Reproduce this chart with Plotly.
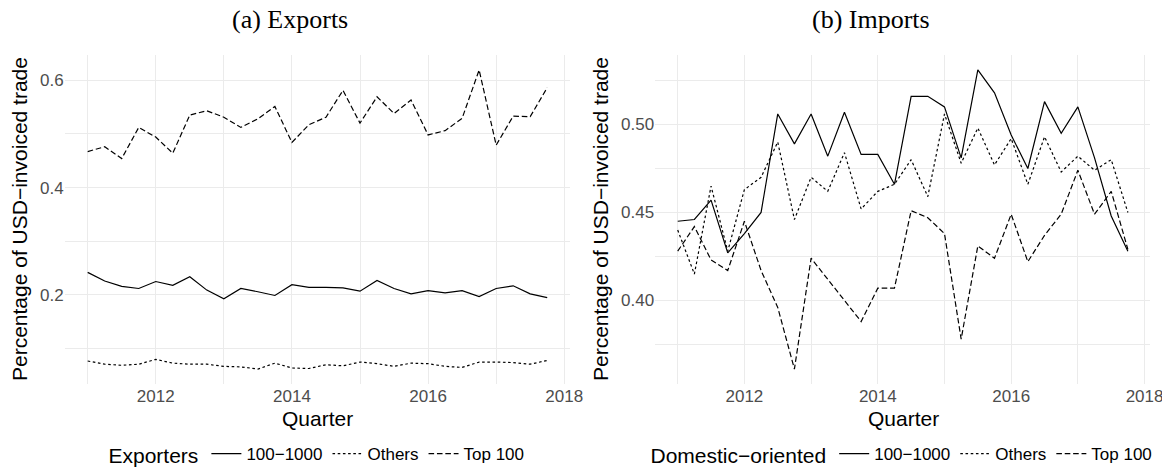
import plotly.graph_objects as go

# ---------------- data ----------------
quarters = [2011.00, 2011.25, 2011.50, 2011.75, 2012.00, 2012.25, 2012.50, 2012.75,
            2013.00, 2013.25, 2013.50, 2013.75, 2014.00, 2014.25, 2014.50, 2014.75,
            2015.00, 2015.25, 2015.50, 2015.75, 2016.00, 2016.25, 2016.50, 2016.75,
            2017.00, 2017.25, 2017.50, 2017.75]

series_names = ["100\u22121000", "Others", "Top 100"]

exp_100_1000 = [0.242, 0.226, 0.216, 0.212, 0.225, 0.218, 0.234, 0.209, 0.193, 0.212,
                0.206, 0.199, 0.219, 0.214, 0.214, 0.213, 0.207, 0.227, 0.212, 0.202,
                0.208, 0.204, 0.208, 0.197, 0.212, 0.217, 0.202, 0.195]
exp_others = [0.077, 0.071, 0.069, 0.071, 0.080, 0.073, 0.071, 0.071, 0.067, 0.066,
              0.062, 0.073, 0.064, 0.063, 0.070, 0.068, 0.075, 0.072, 0.067, 0.073,
              0.072, 0.067, 0.065, 0.075, 0.075, 0.074, 0.071, 0.078]
exp_top100 = [0.467, 0.476, 0.454, 0.512, 0.494, 0.464, 0.535, 0.543, 0.531, 0.512,
              0.528, 0.551, 0.484, 0.517, 0.531, 0.581, 0.520, 0.569, 0.538, 0.563,
              0.498, 0.506, 0.529, 0.619, 0.479, 0.533, 0.532, 0.586]

imp_100_1000 = [0.445, 0.446, 0.457, 0.427, 0.438, 0.450, 0.506, 0.489, 0.506, 0.482,
                0.507, 0.483, 0.483, 0.466, 0.516, 0.516, 0.510, 0.481, 0.531, 0.518,
                0.494, 0.475, 0.513, 0.495, 0.510, 0.481, 0.448, 0.428]
imp_others = [0.440, 0.415, 0.465, 0.428, 0.463, 0.470, 0.490, 0.446, 0.470, 0.462,
              0.484, 0.452, 0.462, 0.466, 0.480, 0.459, 0.506, 0.478, 0.498, 0.477,
              0.492, 0.466, 0.493, 0.473, 0.482, 0.474, 0.480, 0.450]
imp_top100 = [0.428, 0.442, 0.423, 0.417, 0.445, 0.417, 0.396, 0.361, 0.424, 0.412,
              0.400, 0.388, 0.407, 0.407, 0.451, 0.447, 0.438, 0.378, 0.431, 0.424,
              0.449, 0.422, 0.437, 0.449, 0.474, 0.449, 0.462, 0.429]

x_tickvals = [2012, 2014, 2016, 2018]
x_ticktext = ["2012", "2014", "2016", "2018"]

# ---------------- styling ----------------
W, H = 1162, 473
SANS = "Liberation Sans, Arial, Helvetica, sans-serif"
SERIF = "Liberation Serif, Times New Roman, serif"
dashes = ["solid", "2.6px,2.6px", "5.6px,2.8px"]
GRID = "#EBEBEB"
TICKC = "#4D4D4D"


def expand(vals_lists, mult=0.05):
    lo = min(min(v) for v in vals_lists)
    hi = max(max(v) for v in vals_lists)
    pad = (hi - lo) * mult
    return [lo - pad, hi + pad]


def px_x(p):
    return p / W


def px_y(p):
    return 1 - p / H


fig = go.Figure()

left_sets = [exp_100_1000, exp_others, exp_top100]
right_sets = [imp_100_1000, imp_others, imp_top100]

for name, vals, d in zip(series_names, left_sets, dashes):
    fig.add_trace(go.Scatter(x=quarters, y=vals, mode="lines", name=name,
                             line=dict(color="black", width=1.2, dash=d),
                             xaxis="x", yaxis="y", legend="legend",
                             legendgroup="L" + name))
for name, vals, d in zip(series_names, right_sets, dashes):
    fig.add_trace(go.Scatter(x=quarters, y=vals, mode="lines", name=name,
                             line=dict(color="black", width=1.2, dash=d),
                             xaxis="x2", yaxis="y2", legend="legend2",
                             legendgroup="R" + name))

xr = expand([quarters])
yl = expand(left_sets)
yr = expand(right_sets)

plot_top, plot_bot = 55, 384
ydom = [px_y(plot_bot), px_y(plot_top)]

common_x = dict(range=xr, tickmode="array", tickvals=x_tickvals, ticktext=x_ticktext,
                showgrid=True, gridcolor=GRID, gridwidth=1.1, zeroline=False,
                showline=False, ticks="", tickfont=dict(family=SANS, size=17, color=TICKC),
                ticklabeloverflow="allow",
                minor=dict(tickmode="array", tickvals=[2011, 2013, 2015, 2017],
                           showgrid=True, gridcolor=GRID, gridwidth=0.9))

fig.update_layout(
    width=W, height=H,
    margin=dict(l=0, r=0, t=0, b=0, autoexpand=False),
    paper_bgcolor="white", plot_bgcolor="white",
    font=dict(family=SANS, color="black"),
    showlegend=True,
    xaxis=dict(domain=[px_x(64.7), px_x(570.2)], anchor="y", **common_x),
    xaxis2=dict(domain=[px_x(655.2), px_x(1150.4)], anchor="y2", **common_x),
    yaxis=dict(domain=ydom, anchor="x", range=yl, tickmode="linear", tick0=0, dtick=0.2,
               tickformat=".1f", showgrid=True, gridcolor=GRID, gridwidth=1.1,
               zeroline=False, showline=False, ticks="",
               tickfont=dict(family=SANS, size=17, color=TICKC),
               minor=dict(dtick=0.1, showgrid=True, gridcolor=GRID, gridwidth=0.9)),
    yaxis2=dict(domain=ydom, anchor="x2", range=yr, tickmode="linear", tick0=0, dtick=0.05,
                tickformat=".2f", showgrid=True, gridcolor=GRID, gridwidth=1.1,
                zeroline=False, showline=False, ticks="",
                tickfont=dict(family=SANS, size=17, color=TICKC),
                minor=dict(dtick=0.025, showgrid=True, gridcolor=GRID, gridwidth=0.9)),
    legend=dict(orientation="h", x=px_x(318), xanchor="center", y=px_y(455), yanchor="middle",
                title=dict(text="Exporters", side="left", font=dict(family=SANS, size=21)),
                font=dict(family=SANS, size=17, color="black"), itemwidth=30,
                bgcolor="rgba(0,0,0,0)"),
    legend2=dict(orientation="h", x=px_x(903), xanchor="center", y=px_y(455), yanchor="middle",
                 title=dict(text="Domestic\u2212oriented", side="left",
                            font=dict(family=SANS, size=21)),
                 font=dict(family=SANS, size=17, color="black"), itemwidth=30,
                 bgcolor="rgba(0,0,0,0)"),
)

ann = []
# panel titles
ann.append(dict(text="(a) Exports", x=px_x(290), y=px_y(19), xref="paper", yref="paper",
                showarrow=False, xanchor="center", yanchor="middle",
                font=dict(family=SERIF, size=26, color="black")))
ann.append(dict(text="(b) Imports", x=px_x(871), y=px_y(19), xref="paper", yref="paper",
                showarrow=False, xanchor="center", yanchor="middle",
                font=dict(family=SERIF, size=26, color="black")))
# x axis titles
for cx in (317.5, 903):
    ann.append(dict(text="Quarter", x=px_x(cx), y=px_y(418), xref="paper", yref="paper",
                    showarrow=False, xanchor="center", yanchor="middle",
                    font=dict(family=SANS, size=21, color="black")))
# y axis titles
for cx in (19.5, 600.5):
    ann.append(dict(text="Percentage of USD\u2212invoiced trade", x=px_x(cx),
                    y=px_y((plot_top + plot_bot) / 2), xref="paper", yref="paper",
                    showarrow=False, xanchor="center", yanchor="middle", textangle=-90,
                    font=dict(family=SANS, size=21, color="black")))
fig.update_layout(annotations=ann)

fig.write_html("out.html", config={"displayModeBar": False},
               post_script="document.body.style.margin='0';document.body.style.padding='0';")
